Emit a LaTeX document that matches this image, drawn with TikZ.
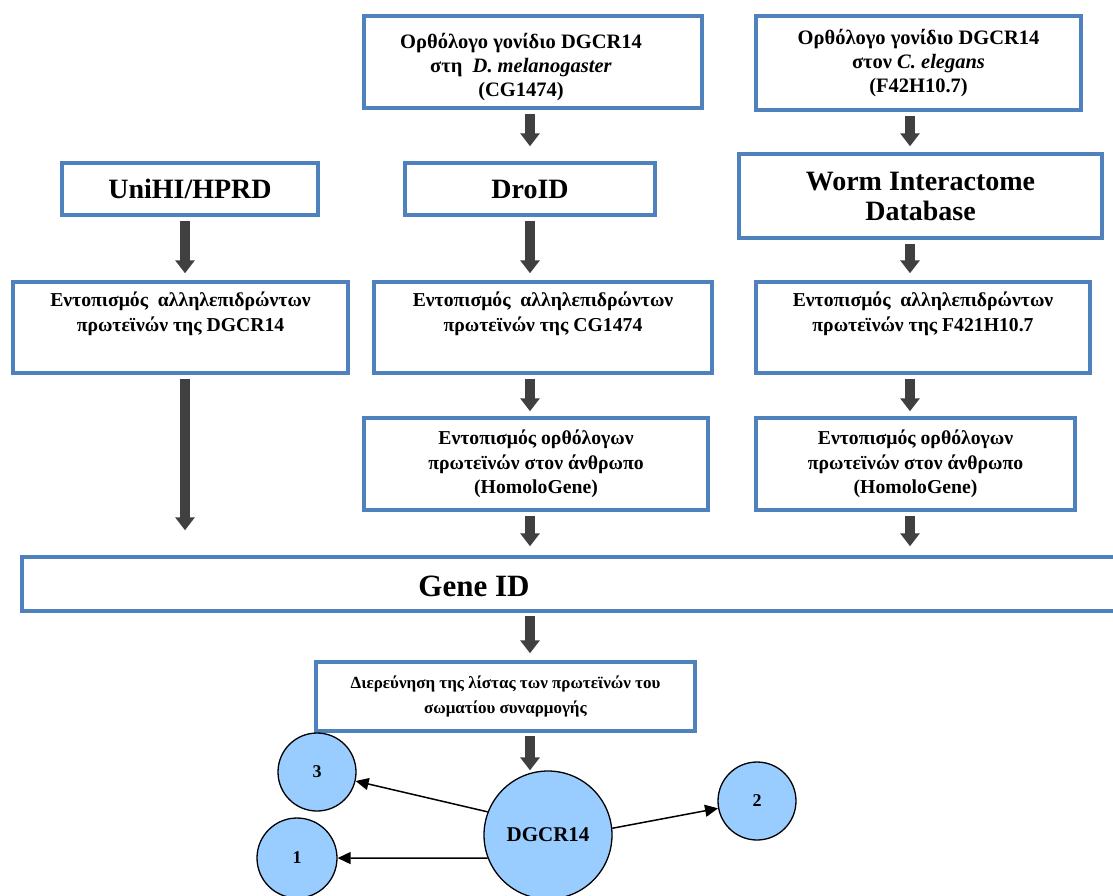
\documentclass[tikz,border=0pt]{standalone}
\usepackage{fontspec}
\setmainfont{Liberation Serif}
\usetikzlibrary{arrows.meta,calc}
\definecolor{boxblue}{RGB}{79,129,189}
\definecolor{arrgray}{RGB}{64,64,64}
\definecolor{cblue}{RGB}{153,204,255}
\newcommand\smallfnt{\fontsize{19.7}{24.5}\selectfont\bfseries}
\newcommand\topfnt{\fontsize{20.5}{24}\selectfont\bfseries}
\newcommand\bigfnt{\fontsize{28}{30}\selectfont\bfseries}
\newcommand\midfnt{\fontsize{17}{25}\selectfont\bfseries}
\begin{document}
\begin{tikzpicture}[x=1pt,y=-1pt,
  box/.style={draw=boxblue,line width=3.5pt,fill=white,inner sep=0pt,align=center,font=\smallfnt},
  txt/.style={inner sep=0pt,align=center,font=\smallfnt},
  circ/.style={circle,draw=black,line width=1.3pt,fill=cblue,inner sep=0pt,font=\fontsize{18}{20}\selectfont\bfseries},
  barrow/.style={draw=arrgray,line width=10pt,line cap=butt,-{Triangle[width=19pt,length=13pt]}},
  tarrow/.style={draw=black,line width=1.5pt,-{Triangle[width=12pt,length=13pt]}}]
\useasboundingbox (0,0) rectangle (1113,895);

% boxes
\node[box,minimum width=338pt,minimum height=92pt] (A) at (533,62) {};
\node[txt,font=\topfnt] (At) at (521,67) {Ορθόλογο γονίδιο DGCR14\\στη\ \ \textit{D. melanogaster}\\(CG1474)};
\node[box,font=\topfnt,minimum width=325pt,minimum height=94pt] (B) at (918.5,63) {Ορθόλογο γονίδιο DGCR14\\στον \textit{C. elegans}\\(F42H10.7)};
\node[box,font=\bigfnt,minimum width=256pt,minimum height=52pt] (U) at (190,189) {UniHI/HPRD};
\node[box,font=\bigfnt,minimum width=250pt,minimum height=52pt] (D) at (530,189) {DroID};
\node[box,font=\bigfnt,minimum width=363pt,minimum height=84pt] (W) at (920.5,196) {Worm Interactome\\Database};
\node[box,minimum width=335pt,minimum height=91pt] (E1) at (180.5,327.5) {Εντοπισμός\ \ αλληλεπιδρώντων\\πρωτεϊνών της DGCR14\\\strut};
\node[box,minimum width=338pt,minimum height=91pt] (E2) at (543,327.5) {Εντοπισμός\ \ αλληλεπιδρώντων\\πρωτεϊνών της CG1474\\\strut};
\node[box,minimum width=334pt,minimum height=91pt] (E3) at (923,327.5) {Εντοπισμός\ \ αλληλεπιδρώντων\\πρωτεϊνών της F421H10.7\\\strut};
\node[box,minimum width=344pt,minimum height=92pt] (O2) at (536,464) {Εντοπισμός ορθόλογων\\πρωτεϊνών στον άνθρωπο\\(HomoloGene)};
\node[box,minimum width=319pt,minimum height=92pt] (O3) at (915.5,464) {Εντοπισμός ορθόλογων\\πρωτεϊνών στον άνθρωπο\\(HomoloGene)};
\node[box,minimum width=1110pt,minimum height=54pt] (G) at (577,584) {};
\node[txt,font=\fontsize{31}{33}\selectfont\bfseries] (Gt) at (474,586) {Gene ID};
\node[box,font=\midfnt,minimum width=379pt,minimum height=69pt] (R) at (505.5,696.5) {Διερεύνηση της λίστας των πρωτεϊνών του\\σωματίου συναρμογής};

% circles
\node[circ,minimum size=128pt,font=\fontsize{21}{23}\selectfont\bfseries] (c0) at (548,835) {DGCR14};
\node[circ,minimum size=78pt] (c3) at (317,772) {3};
\node[circ,minimum size=80pt] (c1) at (297,858) {1};
\node[circ,minimum size=78pt] (c2) at (757,801) {2};

% block arrows
\coordinate (xl) at (185,0);
\coordinate (xm) at (530,0);
\coordinate (xr) at (910,0);
\draw[barrow,shorten <=4pt,shorten >=15pt] (xm |- A.south) -- (xm |- D.north);
\draw[barrow,shorten <=4pt,shorten >=6pt] (xr |- B.south) -- (xr |- W.north);
\draw[barrow,shorten <=4pt,shorten >=7pt] (xl |- U.south) -- (xl |- E1.north);
\draw[barrow,shorten <=4pt,shorten >=7pt] (xm |- D.south) -- (xm |- E2.north);
\draw[barrow,shorten <=4pt,shorten >=7pt] (xr |- W.south) -- (xr |- E3.north);
\draw[barrow,shorten <=4pt,shorten >=25pt] (xl |- E1.south) -- (xl |- G.north);
\draw[barrow,shorten <=4pt,shorten >=5pt] (xm |- E2.south) -- (xm |- O2.north);
\draw[barrow,shorten <=4pt,shorten >=5pt] (xr |- E3.south) -- (xr |- O3.north);
\draw[barrow,shorten <=4pt,shorten >=9pt] (xm |- O2.south) -- (xm |- G.north);
\draw[barrow,shorten <=4pt,shorten >=9pt] (xr |- O3.south) -- (xr |- G.north);
\draw[barrow,shorten <=3pt,shorten >=7pt] (xm |- G.south) -- (xm |- R.north);
\draw[barrow,shorten <=3pt,shorten >=0pt] (xm |- R.south) -- (xm |- c0.north);

% interaction arrows
\draw[tarrow] (c0.159) -- (c3);
\draw[tarrow] (c0.201) -- (c1);
\draw[tarrow] (c0.6) -- (c2);
\end{tikzpicture}
\end{document}
